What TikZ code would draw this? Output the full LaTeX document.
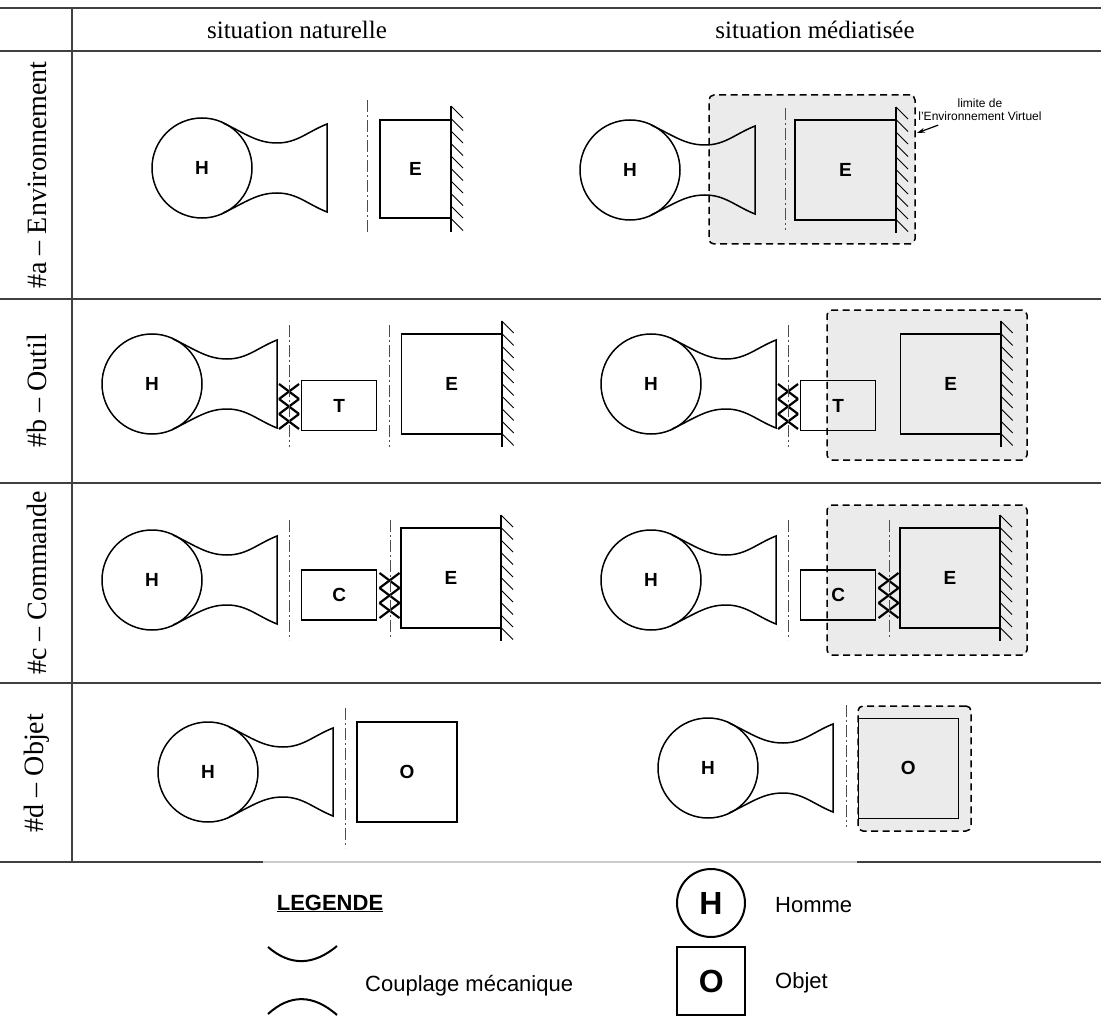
\documentclass[tikz,border=0pt]{standalone}
\usepackage{fontspec}
\setmainfont{Liberation Sans}
\newfontfamily\timesfont{Liberation Serif}
\usetikzlibrary{arrows.meta}

\begin{document}
\begin{tikzpicture}[
  x=1pt, y=-1pt,
  grille/.style={draw=black!75, line width=1.5},
  titre/.style={font=\timesfont\fontsize{25}{30}\selectfont},
  ligne/.style={font=\timesfont\fontsize{28}{30}\selectfont, rotate=90},
  homme/.style={circle, draw, line width=1.5, minimum size=100, inner sep=0, outer sep=0, font=\bfseries\fontsize{19}{19}\selectfont},
  bloc/.style={rectangle, draw, line width=1.5, inner sep=0, outer sep=0, font=\bfseries\fontsize{19}{19}\selectfont},
  virtuel/.style={rectangle, draw, fill=black!8, line width=1.5, dash pattern=on 7pt off 4.5pt, rounded corners=5, inner sep=0},
  limite/.style={black!70, line width=0.9, dash pattern=on 12pt off 3pt on 2pt off 3pt},
  note/.style={align=center, inner sep=1, font=\fontsize{12}{13}\selectfont},
  legende/.style={inner sep=0, font=\fontsize{22}{22}\selectfont},
  fleche/.style={-{Stealth[length=8pt, width=5pt]}, line width=1.2},
  couplage/.pic={
    \draw[line width=1.5] (21,-45) .. controls (43.5,-34.5) and (55,-25) .. (75,-25)
      .. controls (95,-25) and (105,-36) .. (125,-44) -- (125,44)
      .. controls (105,36) and (95,25) .. (75,25)
      .. controls (55,25) and (43.5,34.5) .. (21,45);
  },
  mur/.pic={
    \draw[line width=2.2] (0,-63) -- (0,63);
    \foreach \k in {0,...,9}
      \draw[line width=0.8] (0,-63+12.5*\k) -- ++(12,12);
  },
  croix/.pic={
    \foreach \k in {-15,0,15} {
      \draw[line width=2.2] (-10,\k-7.5) -- (10,\k+7.5);
      \draw[line width=2.2] (-10,\k+7.5) -- (10,\k-7.5);
    }
  }
]
\fill[white] (0,0) rectangle (1101,1019);
\useasboundingbox (0,0) rectangle (1101,1019);

% tableau
\draw[grille] (0,8) -- (1101,8);
\draw[grille] (0,51) -- (1101,51);
\draw[grille] (0,299) -- (1101,299);
\draw[grille] (0,483) -- (1101,483);
\draw[grille] (0,683) -- (1101,683);
\draw[grille] (0,862) -- (263,862);
\draw[black!20, line width=1.5] (263,862) -- (857,862);
\draw[grille] (857,862) -- (1101,862);
\draw[grille] (72,8) -- (72,862);

\node[titre] (nat) at (297,30) {situation naturelle};
\node[titre] (med) at (815,30) {situation médiatisée};
\node[ligne] (ra) at (37,175) {\#a – Environnement};
\node[ligne] (rb) at (37,391) {\#b – Outil};
\node[ligne] (rc) at (37,583) {\#c – Commande};
\node[ligne] (rd) at (37,773) {\#d – Objet};

% #a naturelle
\node[homme] (h1) at (202,168) {H};
\pic at (h1.center) {couplage};
\draw[limite] (367,100) -- (367,232);
\node[bloc, minimum width=71, minimum height=98] (e1) at (415.5,169) {E};
\pic at (e1.east) {mur};

% #a mediatisee
\node[virtuel, minimum width=206, minimum height=149] (v1) at (812,169.5) {};
\node[homme] (h2) at (630,170) {H};
\pic at (h2.center) {couplage};
\draw[limite] (785,108) -- (785,230);
\node[bloc, minimum width=101, minimum height=100] (e2) at (845.5,170) {E};
\pic at (e2.east) {mur};
\node[note] (n1) at (980,110) {limite de\\l'Environnement Virtuel};
\coordinate (p1) at (917,133);
\draw[fleche] ([xshift=21pt, yshift=-3pt]n1.south west) -- (p1);

% #b naturelle
\node[homme] (h3) at (152,384) {H};
\pic at (h3.center) {couplage};
\pic at (289,406.5) {croix};
\draw[limite] (289,325) -- (289,447);
\node[bloc, minimum width=75, minimum height=50] (t1) at (339.2,405.7) {T};
\draw[limite] (389,325) -- (389,447);
\node[bloc, minimum width=100, minimum height=100] (e3) at (451.7,384) {E};
\pic at (e3.east) {mur};

% #b mediatisee
\node[virtuel, minimum width=200, minimum height=150] (v2) at (927,385) {};
\node[homme] (h4) at (651,384) {H};
\pic at (h4.center) {couplage};
\pic at (788,406.5) {croix};
\draw[limite] (788,325) -- (788,447);
\node[bloc, minimum width=75, minimum height=50] (t2) at (838.2,405.7) {T};
\node[bloc, minimum width=100, minimum height=100] (e4) at (950.7,384) {E};
\pic at (e4.east) {mur};

% #c naturelle
\node[homme] (h5) at (152,580) {H};
\pic at (h5.center) {couplage};
\draw[limite] (289,520) -- (289,640);
\node[bloc, minimum width=75, minimum height=50] (c1) at (339.2,595) {C};
\pic at (389.5,595.5) {croix};
\draw[limite] (390,520) -- (390,637);
\node[bloc, minimum width=100, minimum height=100] (e5) at (451,578) {E};
\pic at (e5.east) {mur};

% #c mediatisee
\node[virtuel, minimum width=200, minimum height=150] (v3) at (927,580) {};
\node[homme] (h6) at (651,580) {H};
\pic at (h6.center) {couplage};
\draw[limite] (788,520) -- (788,640);
\node[bloc, minimum width=75, minimum height=50] (c2) at (838.2,595) {C};
\pic at (888.5,595.5) {croix};
\draw[limite] (889,520) -- (889,637);
\node[bloc, minimum width=100, minimum height=100] (e6) at (950,578) {E};
\pic at (e6.east) {mur};

% #d naturelle
\node[homme] (h7) at (208,772) {H};
\pic at (h7.center) {couplage};
\draw[limite] (345,708) -- (345,848);
\node[bloc, minimum width=100, minimum height=100] (o1) at (407,772) {O};

% #d mediatisee
\node[virtuel, minimum width=113, minimum height=125] (v4) at (914.5,768.5) {};
\node[homme] (h8) at (708,768) {H};
\pic at (h8.center) {couplage};
\draw[limite] (846,705) -- (846,827);
\node[bloc, minimum width=100, minimum height=100] (o2) at (908.3,768.3) {O};

% legende
\node[inner sep=0, font=\bfseries\fontsize{22}{22}\selectfont, anchor=base] (leg) at (330,910) {\underline{LEGENDE}};
\draw[line width=2] (268,947) .. controls (290,966) and (313,966) .. (337,946);
\draw[line width=2] (268,1014) .. controls (290,994) and (313,994) .. (337,1015);
\node[legende, anchor=base west] (lc) at (365,991) {Couplage mécanique};
\node[homme, minimum size=68, line width=2, font=\bfseries\fontsize{32}{32}\selectfont] (lh) at (711,903) {H};
\node[legende, anchor=base west] (lhom) at (775,912) {Homme};
\node[bloc, minimum size=68, line width=2, font=\bfseries\fontsize{32}{32}\selectfont] (lo) at (711.3,981) {O};
\node[legende, anchor=base west] (lobj) at (775,988) {Objet};
\end{tikzpicture}
\end{document}
